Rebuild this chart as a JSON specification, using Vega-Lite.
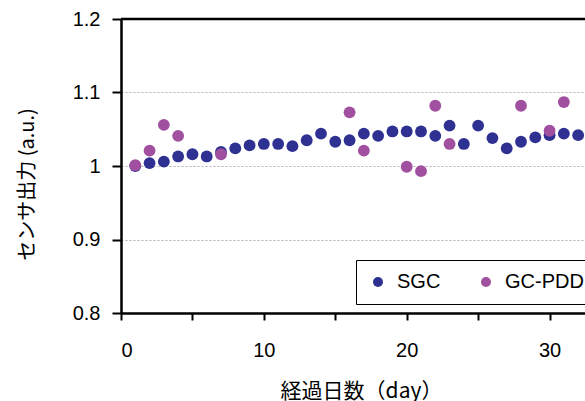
{
  "$schema": "https://vega.github.io/schema/vega-lite/v6.json",
  "width": 464,
  "height": 294,
  "autosize": {"type": "none"},
  "padding": {"left": 121, "top": 19, "right": 0, "bottom": 88},
  "background": "white",
  "config": {"view": {"stroke": null}, "font": "Liberation Sans"},
  "encoding": {
    "y": {
      "field": "value", "type": "quantitative",
      "scale": {"domain": [0.8, 1.2], "nice": false, "zero": false},
      "axis": {
        "values": [0.8, 0.9, 1, 1.1, 1.2],
        "format": "~g",
        "grid": true, "gridColor": "#b0b0b0", "gridDash": [2, 2], "gridWidth": 1,
        "domainColor": "black", "domainWidth": 2.5,
        "tickColor": "black", "tickWidth": 2, "tickSize": 9,
        "labelFont": "Liberation Sans", "labelFontSize": 20, "labelColor": "black",
        "labelPadding": 12,
        "title": "センサ出力 (a.u.)",
        "titleFont": "Noto Sans CJK JP", "titleFontSize": 20, "titleFontWeight": "normal", "titleColor": "black",
        "titleX": -94, "titleY": 165, "titleAngle": -90, "titleAlign": "center", "titleBaseline": "middle"
      }
    }
  },
  "layer": [
    {
      "data": {"values": [{"value": 1.2}]},
      "mark": {"type": "rule", "color": "black", "strokeWidth": 2.5}
    },
    {
      "data": {"values": [
        {"day": 1, "value": 1.000, "series": "SGC"},
        {"day": 2, "value": 1.004, "series": "SGC"},
        {"day": 3, "value": 1.006, "series": "SGC"},
        {"day": 4, "value": 1.013, "series": "SGC"},
        {"day": 5, "value": 1.016, "series": "SGC"},
        {"day": 6, "value": 1.013, "series": "SGC"},
        {"day": 7, "value": 1.019, "series": "SGC"},
        {"day": 8, "value": 1.024, "series": "SGC"},
        {"day": 9, "value": 1.028, "series": "SGC"},
        {"day": 10, "value": 1.030, "series": "SGC"},
        {"day": 11, "value": 1.030, "series": "SGC"},
        {"day": 12, "value": 1.027, "series": "SGC"},
        {"day": 13, "value": 1.035, "series": "SGC"},
        {"day": 14, "value": 1.044, "series": "SGC"},
        {"day": 15, "value": 1.033, "series": "SGC"},
        {"day": 16, "value": 1.035, "series": "SGC"},
        {"day": 17, "value": 1.044, "series": "SGC"},
        {"day": 18, "value": 1.041, "series": "SGC"},
        {"day": 19, "value": 1.047, "series": "SGC"},
        {"day": 20, "value": 1.047, "series": "SGC"},
        {"day": 21, "value": 1.047, "series": "SGC"},
        {"day": 22, "value": 1.041, "series": "SGC"},
        {"day": 23, "value": 1.055, "series": "SGC"},
        {"day": 24, "value": 1.030, "series": "SGC"},
        {"day": 25, "value": 1.055, "series": "SGC"},
        {"day": 26, "value": 1.038, "series": "SGC"},
        {"day": 27, "value": 1.024, "series": "SGC"},
        {"day": 28, "value": 1.033, "series": "SGC"},
        {"day": 29, "value": 1.039, "series": "SGC"},
        {"day": 30, "value": 1.042, "series": "SGC"},
        {"day": 31, "value": 1.044, "series": "SGC"},
        {"day": 32, "value": 1.042, "series": "SGC"},
        {"day": 1, "value": 1.001, "series": "GC-PDD"},
        {"day": 2, "value": 1.021, "series": "GC-PDD"},
        {"day": 3, "value": 1.056, "series": "GC-PDD"},
        {"day": 4, "value": 1.041, "series": "GC-PDD"},
        {"day": 7, "value": 1.016, "series": "GC-PDD"},
        {"day": 16, "value": 1.073, "series": "GC-PDD"},
        {"day": 17, "value": 1.021, "series": "GC-PDD"},
        {"day": 20, "value": 0.999, "series": "GC-PDD"},
        {"day": 21, "value": 0.993, "series": "GC-PDD"},
        {"day": 22, "value": 1.082, "series": "GC-PDD"},
        {"day": 23, "value": 1.030, "series": "GC-PDD"},
        {"day": 28, "value": 1.082, "series": "GC-PDD"},
        {"day": 30, "value": 1.048, "series": "GC-PDD"},
        {"day": 31, "value": 1.087, "series": "GC-PDD"}
      ]},
      "mark": {"type": "point", "filled": true, "size": 140, "opacity": 1, "strokeWidth": 0},
      "encoding": {
        "x": {
          "field": "day", "type": "quantitative",
          "scale": {"domain": [0, 32.48], "nice": false, "zero": false},
          "axis": {
            "values": [0, 5, 10, 15, 20, 25, 30],
            "labelExpr": "datum.value % 10 == 0 ? datum.label : ''",
            "grid": false,
            "domainColor": "black", "domainWidth": 2.5,
            "tickColor": "black", "tickWidth": 2, "tickSize": 7,
            "labelFont": "Liberation Sans", "labelFontSize": 20, "labelColor": "black",
            "labelPadding": 20,
            "title": "経過日数（day）",
            "titleFont": "Noto Sans CJK JP", "titleFontSize": 21, "titleFontWeight": "normal", "titleColor": "black",
            "titleX": 240, "titleY": 78, "titleAlign": "center", "titleBaseline": "middle"
          }
        },
        "color": {
          "field": "series", "type": "nominal",
          "scale": {"domain": ["SGC", "GC-PDD"], "range": ["#2E3191", "#A0509F"]},
          "legend": {
            "title": null,
            "orient": "none", "legendX": 235, "legendY": 241,
            "direction": "horizontal",
            "strokeColor": "black", "fillColor": "white",
            "padding": 12,
            "symbolType": "circle", "symbolSize": 100, "symbolStrokeWidth": 0,
            "labelFont": "Liberation Sans", "labelFontSize": 20, "labelColor": "black",
            "labelOffset": 9, "columnPadding": 35,
            "encode": {"legend": {"update": {"strokeWidth": {"value": 1.5}}}}
          }
        }
      }
    }
  ]
}
